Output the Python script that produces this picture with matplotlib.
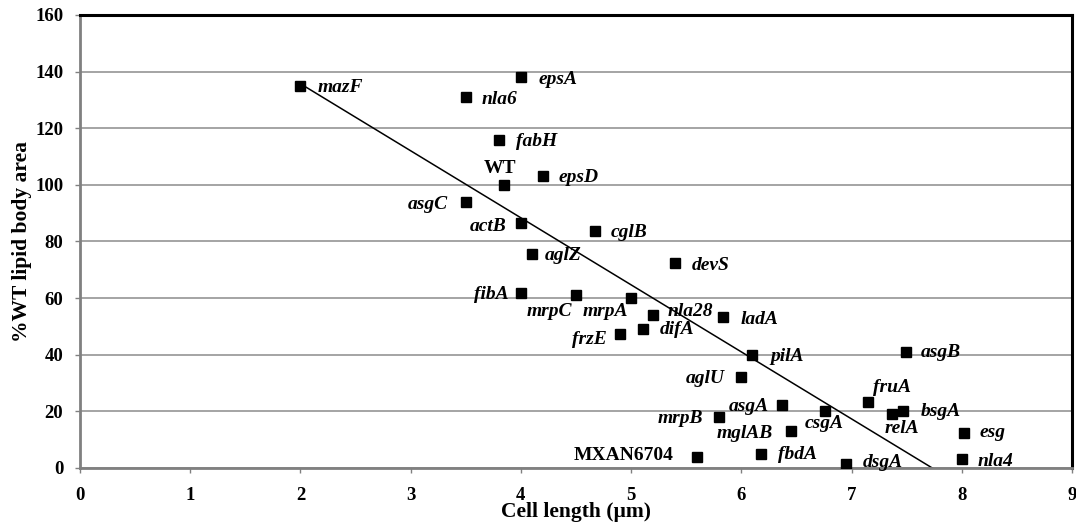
import numpy as np
import matplotlib.pyplot as plt

plt.rcParams['font.family'] = ['Liberation Serif', 'DejaVu Serif']

genes = ['mazF', 'nla6', 'epsA', 'fabH', 'WT', 'epsD', 'asgC', 'actB', 'cglB',
         'aglZ', 'devS', 'fibA', 'mrpC', 'mrpA', 'nla28', 'ladA', 'frzE', 'difA',
         'pilA', 'asgB', 'aglU', 'fruA', 'asgA', 'csgA', 'mrpB', 'relA', 'bsgA',
         'mglAB', 'esg', 'MXAN6704', 'fbdA', 'dsgA', 'nla4']
cell_len = [2.0, 3.5, 4.0, 3.8, 3.85, 4.2, 3.5, 4.0, 4.67,
            4.1, 5.4, 4.0, 4.5, 5.0, 5.2, 5.83, 4.9, 5.11,
            6.1, 7.49, 6.0, 7.15, 6.37, 6.76, 5.8, 7.37, 7.47,
            6.45, 8.02, 5.6, 6.18, 6.95, 8.0]
lipid = [135, 131, 138, 116, 100, 103, 94, 86.5, 83.7,
         75.6, 72.4, 61.8, 61, 60, 54, 53.4, 47.3, 49.1,
         40, 41, 32, 23.3, 22.3, 20, 18, 19, 20,
         13, 12.4, 3.9, 5, 1.4, 3.2]

# label offsets in pixels (dx, dy, horizontal alignment)
offs = {
    'mazF': (17, -2, 'left'), 'nla6': (16, -2, 'left'), 'epsA': (18, -2, 'left'),
    'fabH': (17, -2, 'left'), 'WT': (-4, 16, 'center'), 'epsD': (16, -1, 'left'),
    'asgC': (-18, -3, 'right'), 'actB': (-14, -3, 'right'), 'cglB': (16, -1, 'left'),
    'aglZ': (13, -2, 'left'), 'devS': (17, -2, 'left'), 'fibA': (-12, -1, 'right'),
    'mrpC': (-4, -16, 'right'), 'mrpA': (-3, -13, 'right'), 'nla28': (14, 4, 'left'),
    'ladA': (18, -3, 'left'), 'frzE': (-13, -5, 'right'), 'difA': (16, -1, 'left'),
    'pilA': (18, -2, 'left'), 'asgB': (15, -1, 'left'), 'aglU': (-17, -1, 'right'),
    'fruA': (5, 15, 'left'), 'asgA': (-13, -2, 'right'), 'csgA': (-1, -12, 'center'),
    'mrpB': (-16, -1, 'right'), 'relA': (9, -14, 'center'), 'bsgA': (17, 0, 'left'),
    'mglAB': (-18, -2, 'right'), 'esg': (15, 0, 'left'), 'MXAN6704': (-24, 1, 'right'),
    'fbdA': (17, -1, 'left'), 'dsgA': (17, 2, 'left'), 'nla4': (16, -3, 'left'),
}

fig = plt.figure(figsize=(10.76, 5.24), dpi=100)
ax = fig.add_axes([0.0743, 0.1069, 0.9221, 0.8645])

ax.set_xlim(0, 9)
ax.set_ylim(0, 160)
ax.set_yticks(range(0, 161, 20))
ax.set_xticks(range(0, 10))
ax.yaxis.grid(True, color='#8c8c8c', linewidth=1.1)
ax.set_axisbelow(True)

x = np.array(cell_len)
y = np.array(lipid)
ax.plot(x, y, 's', color='black', markersize=7.5, zorder=3)

# linear trendline
k, b = np.polyfit(x, y, 1)
xs = np.array([x.min(), x.max()])
ax.plot(xs, k * xs + b, color='black', linewidth=1.1, zorder=2)

for g, xi, yi in zip(genes, cell_len, lipid):
    dx, dy, ha = offs[g]
    style = 'normal' if g in ('WT', 'MXAN6704') else 'italic'
    ax.annotate(g, (xi, yi), xytext=(dx * 0.72, dy * 0.72), textcoords='offset points',
                ha=ha, va='center', fontsize=14, fontweight='bold', fontstyle=style)

for s in ['left', 'bottom']:
    ax.spines[s].set_color('#808080')
    ax.spines[s].set_linewidth(2)
ax.spines['top'].set_linewidth(2.2)
ax.spines['right'].set_linewidth(2.2)
ax.tick_params(axis='both', direction='out', length=3.6, color='#808080', width=1,
               labelsize=13.5)
ax.tick_params(axis='x', pad=10)
ax.tick_params(axis='y', pad=8.5)
for lab in ax.get_xticklabels() + ax.get_yticklabels():
    lab.set_fontweight('bold')

ax.set_xlabel('Cell length (µm)', fontsize=15.5, fontweight='bold', labelpad=-1)
ax.set_ylabel('%WT lipid body area', fontsize=15.5, fontweight='bold', labelpad=2)

fig.savefig('out.png', dpi=100)
